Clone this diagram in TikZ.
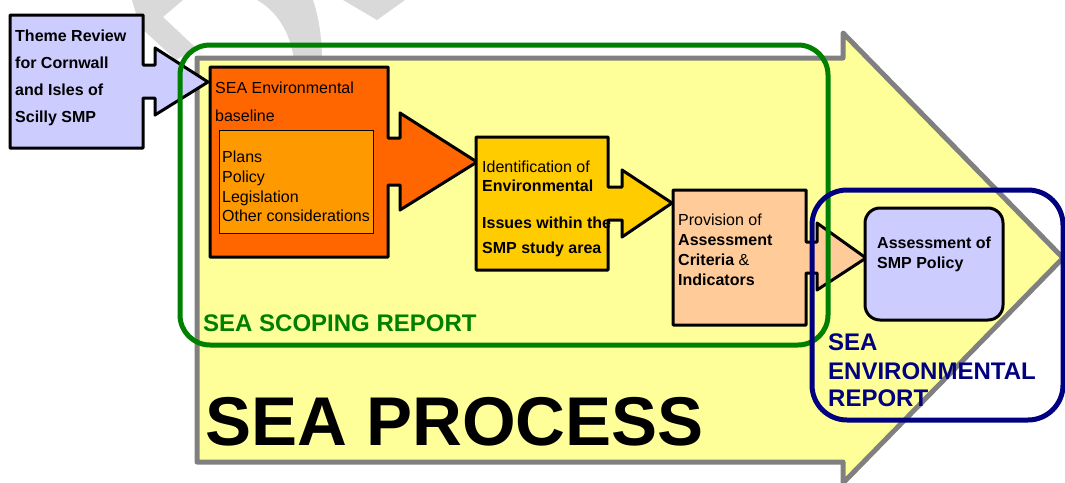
\documentclass[tikz,border=0pt]{standalone}
\usepackage{fontspec}
\setmainfont{Liberation Sans}

\definecolor{wmgrey}{HTML}{D9D9D9}
\definecolor{seayellow}{HTML}{FFFF99}
\definecolor{seagrey}{HTML}{808080}
\definecolor{lavender}{HTML}{CCCCFF}
\definecolor{baseorange}{HTML}{FF6600}
\definecolor{listorange}{HTML}{FF9900}
\definecolor{issuegold}{HTML}{FFCC00}
\definecolor{critpeach}{HTML}{FFCC99}
\definecolor{scopegreen}{HTML}{008000}
\definecolor{envnavy}{HTML}{000080}

\tikzset{
	boxline/.style={draw=black, line width=3pt, line join=round},
	txt/.style={anchor=base west, inner sep=0pt, font=\fontsize{16}{19}\selectfont},
	txtb/.style={anchor=base west, inner sep=0pt, font=\fontsize{16}{19}\selectfont\bfseries},
	reportlbl/.style={anchor=base west, inner sep=0pt, font=\fontsize{24}{28}\selectfont\bfseries},
}

\begin{document}
\begin{tikzpicture}[x=1pt,y=-1pt]
	\useasboundingbox (0,0) rectangle (1065,482);
	
	% watermark pieces
	\fill[wmgrey] (132,0) -- (183,0) -- (163,17) -- (196,48) -- (176,60) -- (140,27) --cycle;
	\fill[wmgrey] (257,0) .. controls (275,10) and (290,30) .. (294,60) -- (322,60) .. controls (322,35) and (318,15) .. (313,0) --cycle;
	\fill[wmgrey] (343,0) -- (377,20) -- (405,0) --cycle;
	
	% big process arrow
	\filldraw[fill=seayellow, draw=seagrey, line width=5pt, line join=round]
		(197,58) -- (843,58) -- (843,33) -- (1063,258) -- (843,483) -- (843,462) -- (197,462) --cycle;
	
	% theme review callout
	\filldraw[boxline, fill=lavender] (10,15) -- (143,15) -- (143,65) -- (155,65) -- (155,48) -- (208,82)
		-- (155,115) -- (155,98) -- (143,98) -- (143,148) -- (10,148) --cycle;
	
	% baseline callout
	\filldraw[boxline, fill=baseorange] (210,67) -- (388,67) -- (388,138) -- (400,138) -- (400,113) -- (477,162)
		-- (400,210) -- (400,185) -- (388,185) -- (388,257) -- (210,257) --cycle;
	\filldraw[fill=listorange, draw=black, line width=0.8pt] (219,130) rectangle (373,233);
	
	% issues callout
	\filldraw[boxline, fill=issuegold] (476,137) -- (608,137) -- (608,187) -- (622,187) -- (622,170) -- (672,203)
		-- (622,237) -- (622,220) -- (608,220) -- (608,270) -- (476,270) --cycle;
	
	% criteria callout
	\filldraw[boxline, fill=critpeach] (673,190) -- (806,190) -- (806,242) -- (817,242) -- (817,223) -- (866,258)
		-- (817,290) -- (817,273) -- (806,273) -- (806,325) -- (673,325) --cycle;
	
	% policy box
	\filldraw[boxline, fill=lavender, rounded corners=15pt] (865,208) rectangle (1003,320);
	
	% report outlines
	\draw[scopegreen, line width=5pt, rounded corners=30pt] (180,45) rectangle (828,345);
	\draw[envnavy, line width=5pt, rounded corners=35pt] (812,190) rectangle (1063,420);
	
	% box texts
	\path (15,41) node[txtb] (theme1) {Theme Review}
		  (15,68) node[txtb] (theme2) {for Cornwall}
		  (15,95) node[txtb] (theme3) {and Isles of}
		  (15,122) node[txtb] (theme4) {Scilly SMP};
	
	\path (215,93) node[txt] (base1) {SEA Environmental}
		  (215,121) node[txt] (base2) {baseline}
		  (222,162) node[txt] (list1) {Plans}
		  (222,182) node[txt] (list2) {Policy}
		  (222,202) node[txt] (list3) {Legislation}
		  (222,221) node[txt] (list4) {Other considerations};
	
	\path (482,172) node[txt] (issue1) {Identification of}
		  (482,191) node[txtb] (issue2) {Environmental}
		  (482,228) node[txtb] (issue3) {Issues within the}
		  (482,253) node[txtb] (issue4) {SMP study area};
	
	\path (678,225) node[txt] (crit1) {Provision of}
		  (678,245) node[txtb] (crit2) {Assessment}
		  (678,265) node[txt] (crit3) {\bfseries Criteria \mdseries\&}
		  (678,285) node[txtb] (crit4) {Indicators};
	
	\path (877,248) node[txtb] (policy1) {Assessment of}
		  (877,268) node[txtb] (policy2) {SMP Policy};
	
	% report labels
	\path (203,331) node[reportlbl, text=scopegreen] (scope) {SEA SCOPING REPORT};
	\path (828,350) node[reportlbl, text=envnavy] (env1) {SEA}
		  (828,379) node[reportlbl, text=envnavy] (env2) {ENVIRONMENTAL}
		  (828,406) node[reportlbl, text=envnavy] (env3) {REPORT};
	
	\path (205,445) node[anchor=base west, inner sep=0pt, font=\fontsize{69}{78}\selectfont\bfseries] (process) {SEA PROCESS};
	
\end{tikzpicture}
\end{document}
